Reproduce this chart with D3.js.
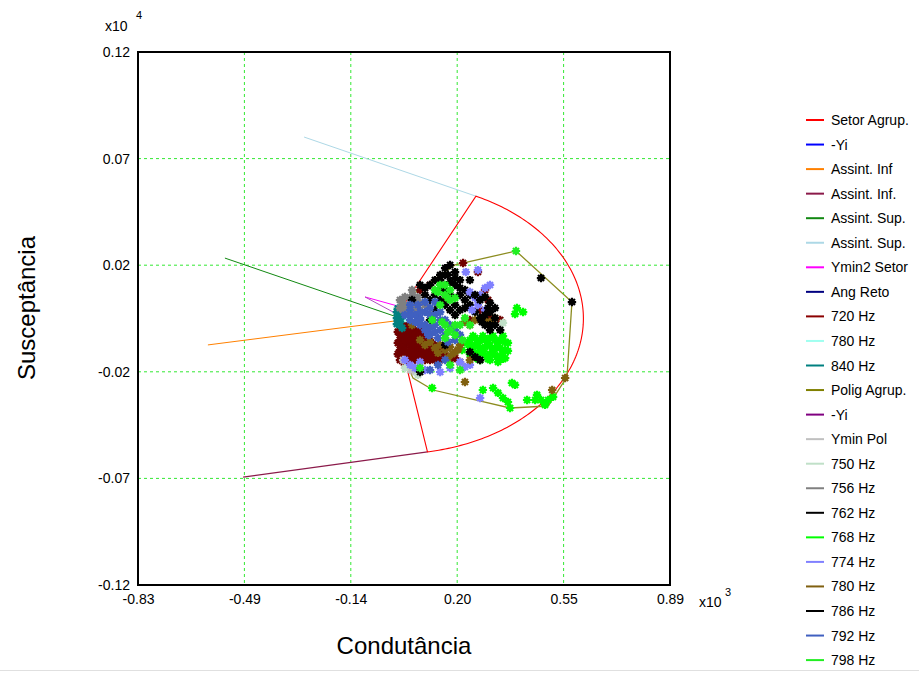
<!DOCTYPE html>
<html>
<head>
<meta charset="utf-8">
<script src="https://cdn.jsdelivr.net/npm/d3@7"></script>
<style>
  body { margin: 0; background: #fff; }
  text { font-family: Arial, "Liberation Sans", sans-serif; }
</style>
</head>
<body>
<svg id="chart" width="919" height="675"></svg>
<script>
// axis ticks (x in units of 10^3, y in units of 10^4)
const xTicks = [-0.83, -0.486, -0.142, 0.202, 0.546, 0.89];
const yTicks = [-0.12, -0.072, -0.024, 0.024, 0.072, 0.12];

// sector: centre, radius (real units) and angle span in degrees
const setorCenter = [0, 0];
const setorRadius = 610;
const setorAngles = [64.5, -80];

// straight lines
const assintInfOrange = [[-0.604, -0.0119], [0.001, -0.0011]];
const assintInfMaroon = [[-0.49, -0.0714], [0.106, -0.0601]];
const assintSupGreen = [[-0.549, 0.0272], [0.007, 0.0007]];
const assintSupBlue = [[-0.293, 0.0817], [0.264, 0.0550]];
const ymin2Setor = [[0.020, 0.0052], [-0.096, 0.0097]];
const yiPurple = [[-0.096, 0.0097], [0.007, 0.0020]];
const yiBlue = [[0.0, 0.0], [0.02, -0.004]];
const angReto = [[0.03, 0.0], [0.04, -0.003]];
const poligAgrup = [[0.017, 0.0070], [0.195, 0.0241], [0.392, 0.0304], [0.573, 0.0074],
  [0.557, -0.0263], [0.496, -0.0394], [0.373, -0.0403], [0.124, -0.0322], [0.059, -0.0268],
  [0.024, -0.0151], [0.017, 0.0070]];

// measured points per frequency
const hz720 = [[0.017,-0.0052],[0.017,-0.0097],[0.017,-0.0142],[0.033,-0.0029],[0.033,-0.0074],[0.033,-0.0119],
  [0.033,-0.0164],[0.050,-0.0029],[0.050,-0.0074],[0.050,-0.0119],[0.050,-0.0164],[0.066,-0.0052],[0.066,-0.0097],
  [0.066,-0.0142],[0.066,-0.0187],[0.082,-0.0052],[0.082,-0.0097],[0.082,-0.0142],[0.082,-0.0187],[0.098,-0.0074],
  [0.098,-0.0119],[0.098,-0.0164],[0.114,-0.0097],[0.114,-0.0142],[0.114,-0.0187],[0.130,-0.0119],[0.130,-0.0164],
  [0.147,-0.0142],[0.147,-0.0187],[0.163,-0.0164],[0.179,-0.0187],[0.195,-0.0178],[0.211,-0.0196],[0.017,-0.0187],
  [0.033,-0.0209],[0.025,-0.0075],[0.025,-0.0125],[0.042,-0.0050],[0.042,-0.0100],[0.058,-0.0140],[0.074,-0.0120],
  [0.017,-0.0074],[0.017,-0.0119],[0.017,-0.0164],[0.033,-0.0052],[0.033,-0.0097],[0.033,-0.0142],[0.033,-0.0187],
  [0.050,-0.0052],[0.050,-0.0097],[0.050,-0.0142],[0.050,-0.0187],[0.066,-0.0074],[0.066,-0.0119],[0.066,-0.0164],
  [0.082,-0.0074],[0.082,-0.0119],[0.082,-0.0164],[0.098,-0.0097],[0.098,-0.0142],[0.098,-0.0187],[0.114,-0.0119],
  [0.114,-0.0164],[0.130,-0.0142],[0.130,-0.0187],[0.147,-0.0164],[0.010,-0.0060],[0.010,-0.0110],[0.010,-0.0160],
  [0.082,0.0128],[0.114,0.0151],[0.221,0.0250],[0.269,0.0209],[0.302,0.0083],[0.308,0.0002],[0.243,-0.0007],
  [0.276,0.0038],[0.163,0.0083],[0.341,-0.0007],[0.292,0.0128]];
const hz780a = [[0.033,0.0002],[0.050,0.0016]];
const hz840 = [[0.007,0.0029],[0.007,0.0002],[0.007,-0.0025],[0.017,0.0016],[0.017,-0.0016],[0.024,-0.0043],
  [0.010,0.0045],[0.020,0.0005]];
const yminPol = [[0.027,-0.0187],[0.050,-0.0232],[0.066,-0.0241]];
const hz750 = [[0.350,-0.0020],[0.075,-0.0254],[0.033,-0.0223]];
const hz756 = [[0.017,0.0083],[0.033,0.0097],[0.033,0.0061],[0.050,0.0092],[0.050,0.0061],[0.050,0.0029],
  [0.066,0.0083],[0.066,0.0047],[0.082,0.0070],[0.082,0.0038],[0.098,0.0061],[0.027,0.0038],[0.017,0.0047],
  [0.056,0.0128],[0.137,0.0070],[0.025,0.0070],[0.042,0.0045],[0.058,0.0105],[0.074,0.0095]];
const hz762 = [[0.114,0.0151],[0.130,0.0173],[0.147,0.0196],[0.163,0.0227],[0.179,0.0241],[0.172,0.0196],
  [0.195,0.0209],[0.179,0.0164],[0.195,0.0151],[0.211,0.0173],[0.163,0.0128],[0.179,0.0106],[0.211,0.0106],
  [0.195,0.0061],[0.227,0.0083],[0.211,0.0038],[0.243,0.0061],[0.227,0.0128],[0.147,0.0083],[0.098,0.0106],
  [0.130,0.0038],[0.114,-0.0007],[0.082,0.0151],[0.056,0.0083],
  [0.147,0.0173],[0.163,0.0196],[0.195,0.0182],[0.211,0.0137],[0.243,0.0106],[0.227,0.0047],[0.179,0.0038],
  [0.163,0.0061],[0.130,0.0106],[0.114,0.0083],[0.098,0.0137],[0.195,0.0016],[0.260,0.0029],[0.243,0.0173],
  [0.147,0.0128]];
const hz768 = [[0.243,-0.0097],[0.260,-0.0088],[0.276,-0.0097],[0.292,-0.0097],[0.308,-0.0088],[0.324,-0.0097],
  [0.341,-0.0097],[0.357,-0.0106],[0.243,-0.0128],[0.260,-0.0119],[0.276,-0.0133],[0.292,-0.0128],[0.308,-0.0124],
  [0.324,-0.0133],[0.341,-0.0133],[0.357,-0.0142],[0.243,-0.0160],[0.260,-0.0155],[0.276,-0.0151],[0.292,-0.0164],
  [0.308,-0.0160],[0.324,-0.0164],[0.341,-0.0169],[0.357,-0.0178],[0.276,-0.0187],[0.308,-0.0187],[0.334,-0.0196],
  [0.227,-0.0106],[0.218,-0.0142],
  [0.237,-0.0110],[0.269,-0.0110],[0.302,-0.0110],[0.334,-0.0110],[0.366,-0.0110],
  [0.253,-0.0146],[0.285,-0.0146],[0.318,-0.0146],[0.350,-0.0146],[0.366,-0.0146],
  [0.269,-0.0182],[0.302,-0.0182],[0.334,-0.0182],[0.350,-0.0182],
  [0.253,-0.0079],[0.285,-0.0079],[0.318,-0.0079],[0.350,-0.0079],
  [0.121,-0.0313],[0.285,-0.0322],[0.318,-0.0313],[0.334,-0.0335],[0.350,-0.0358],[0.379,-0.0290],[0.366,-0.0376],
  [0.428,-0.0367],[0.460,-0.0344],[0.473,-0.0367],[0.486,-0.0389],[0.496,-0.0367],[0.512,-0.0353],[0.373,-0.0403],
  [0.389,-0.0299],[0.454,-0.0367],[0.395,0.0047],[0.415,0.0029],[0.389,0.0020]];
const hz774 = [[0.230,0.0209],[0.269,0.0218],[0.243,0.0119],[0.260,0.0092],[0.276,0.0106],[0.269,0.0061],
  [0.292,0.0137],[0.250,0.0038],[0.033,-0.0187],[0.050,-0.0209],[0.066,-0.0223],[0.082,-0.0196],[0.098,-0.0232],
  [0.211,-0.0196],[0.227,-0.0218],[0.243,-0.0209],[0.276,-0.0358],[0.147,-0.0241],[0.179,-0.0223],[0.292,0.0038],
  [0.308,0.0151]];
const hz780b = [[0.082,-0.0097],[0.098,-0.0119],[0.114,-0.0106],[0.130,-0.0133],[0.147,-0.0119],[0.163,-0.0142],
  [0.179,-0.0128],[0.195,-0.0151],[0.211,-0.0119],[0.227,-0.0016],[0.243,-0.0029],[0.260,-0.0007],[0.292,-0.0007],
  [0.308,-0.0016],[0.324,0.0002],[0.227,-0.0286],[0.551,-0.0268],[0.509,-0.0322],[0.056,-0.0029],[0.243,-0.0187],
  [0.172,-0.0178],[0.140,-0.0155],[0.186,-0.0160],[0.205,-0.0140]];
const hz786 = [[0.276,0.0083],[0.292,0.0097],[0.308,0.0070],[0.324,0.0047],[0.308,0.0029],[0.292,0.0016],
  [0.324,0.0002],[0.282,-0.0016],[0.308,-0.0029],[0.260,-0.0173],[0.276,-0.0187],[0.243,-0.0151],[0.163,-0.0119],
  [0.082,-0.0241],[0.473,0.0182],[0.573,0.0074],[0.260,0.0106],[0.341,-0.0052],
  [0.302,0.0047],[0.324,-0.0029],[0.276,0.0002],[0.292,-0.0029],[0.308,-0.0052]];
const hz792 = [[0.050,0.0038],[0.066,0.0016],[0.082,0.0002],[0.098,0.0029],[0.114,0.0047],[0.130,0.0016],
  [0.147,-0.0007],[0.082,-0.0029],[0.098,-0.0029],[0.114,-0.0043],[0.130,-0.0029],[0.147,-0.0052],[0.163,-0.0074],
  [0.066,-0.0016],[0.050,-0.0007],[0.108,-0.0074],[0.140,-0.0088],[0.172,-0.0106],[0.195,-0.0097],[0.130,0.0074],
  [0.098,0.0074],[0.179,-0.0052],[0.163,-0.0187],[0.114,-0.0232],[0.140,-0.0209],
  [0.050,0.0016],[0.082,0.0029],[0.114,0.0016],[0.147,0.0029],[0.163,-0.0007],[0.179,-0.0029],[0.195,-0.0052],
  [0.114,-0.0074],[0.130,-0.0061],[0.098,-0.0052],[0.082,-0.0007],[0.050,0.0061],[0.075,0.0061],
  [0.211,-0.0074],[0.033,0.0016]];
const hz798 = [[0.130,0.0128],[0.147,0.0151],[0.163,0.0106],[0.179,0.0083],[0.195,0.0092],[0.147,0.0061],
  [0.121,-0.0007],[0.163,-0.0029],[0.179,-0.0052],[0.163,-0.0088],[0.195,-0.0074],[0.211,-0.0029],
  [0.227,0.0002],[0.243,-0.0029],[0.218,-0.0097],[0.082,-0.0223],[0.179,-0.0209],
  [0.211,-0.0232],[0.392,0.0304],
  [0.163,0.0151],[0.179,0.0128],[0.140,0.0119],[0.172,0.0092],[0.153,-0.0016],[0.172,-0.0061],[0.195,-0.0029]];

const legendNames = ["Setor Agrup.", "-Yi", "Assint. Inf", "Assint. Inf.", "Assint. Sup.", "Assint. Sup.",
  "Ymin2 Setor", "Ang Reto", "720 Hz", "780 Hz", "840 Hz", "Polig Agrup.", "-Yi", "Ymin Pol", "750 Hz",
  "756 Hz", "762 Hz", "768 Hz", "774 Hz", "780 Hz", "786 Hz", "792 Hz", "798 Hz"];
const legendColors = ["#ff0000", "#0000ff", "#ff8000", "#8b1a4a", "#118811", "#add8e6", "#ff00ff", "#000080",
  "#8b0000", "#a0fff0", "#008080", "#808000", "#800080", "#c0c0c0", "#c0e0c8", "#808080", "#000000",
  "#00ff00", "#8080ff", "#806010", "#000000", "#4060c0", "#22ee22"];

const svg = d3.select("#chart");
const W = 919, H = 675;
const mLeft = 138, mRight = 670, mTop = 52, mBottom = 585;

const x = d3.scaleLinear().domain([-0.83, 0.89]).range([mLeft, mRight]);
const y = d3.scaleLinear().domain([-0.12, 0.12]).range([mBottom, mTop]);

// grid
const grid = svg.append("g");
grid.selectAll(".gx").data(xTicks.slice(1, -1)).join("line")
  .attr("x1", d => x(d)).attr("x2", d => x(d)).attr("y1", mTop).attr("y2", mBottom)
  .attr("stroke", "#33e833").attr("stroke-dasharray", "3,3");
grid.selectAll(".gy").data(yTicks.slice(1, -1)).join("line")
  .attr("y1", d => y(d)).attr("y2", d => y(d)).attr("x1", mLeft).attr("x2", mRight)
  .attr("stroke", "#33e833").attr("stroke-dasharray", "3,3");

// axes
const fmt = d => d.toFixed(2);
const xAxis = svg.append("g").attr("transform", `translate(0,${mBottom})`)
  .call(d3.axisBottom(x).tickValues(xTicks).tickFormat(fmt).tickSize(0).tickPadding(9));
const yAxis = svg.append("g").attr("transform", `translate(${mLeft},0)`)
  .call(d3.axisLeft(y).tickValues(yTicks).tickFormat(fmt).tickSize(0).tickPadding(8));
[xAxis, yAxis].forEach(a => {
  a.select(".domain").remove();
  a.selectAll("text").attr("font-size", 14).attr("fill", "#000")
    .attr("font-family", "Arial, 'Liberation Sans', sans-serif");
});

const line = d3.line().x(d => x(d[0])).y(d => y(d[1]));

// sector outline
const toData = (deg) => [setorCenter[0] + setorRadius * Math.cos(deg * Math.PI / 180) / 1000,
                         setorCenter[1] + setorRadius * Math.sin(deg * Math.PI / 180) / 10000];
const arcPts = d3.range(setorAngles[0], setorAngles[1] - 0.5, -1).map(toData);
const setorPath = [setorCenter, ...arcPts, toData(setorAngles[1]), setorCenter];

const lines = [
  { d: assintSupBlue, c: legendColors[5], w: 1 },
  { d: assintSupGreen, c: legendColors[4], w: 1 },
  { d: assintInfOrange, c: legendColors[2], w: 1 },
  { d: assintInfMaroon, c: legendColors[3], w: 1.3 },
  { d: setorPath, c: legendColors[0], w: 1.1 },
  { d: yiBlue, c: legendColors[1], w: 1 },
  { d: angReto, c: legendColors[7], w: 1 },
  { d: ymin2Setor, c: legendColors[6], w: 1 },
  { d: yiPurple, c: "#b050c0", w: 1 },
  { d: poligAgrup, c: "#8c8c20", w: 1.3 }
];
svg.append("g").selectAll("path").data(lines).join("path")
  .attr("d", d => line(d.d)).attr("fill", "none")
  .attr("stroke", d => d.c).attr("stroke-width", d => d.w);

// scatter series
const series = [
  { d: hz720, c: "#700000" },
  { d: hz780a, c: legendColors[9] },
  { d: hz840, c: legendColors[10] },
  { d: yminPol, c: legendColors[13] },
  { d: hz750, c: legendColors[14] },
  { d: hz756, c: legendColors[15] },
  { d: hz762, c: legendColors[16] },
  { d: hz768, c: legendColors[17] },
  { d: hz774, c: legendColors[18] },
  { d: hz780b, c: legendColors[19] },
  { d: hz786, c: legendColors[20] },
  { d: hz792, c: legendColors[21] },
  { d: hz798, c: legendColors[22] }
];
const star = "M-4.2,0H4.2M0,-4.2V4.2M-3,-3L3,3M-3,3L3,-3";
const pg = svg.append("g");
series.forEach(s => {
  pg.append("g").selectAll("path").data(s.d).join("path")
    .attr("d", star)
    .attr("transform", d => `translate(${x(d[0])},${y(d[1])})`)
    .attr("fill", "none").attr("stroke", s.c).attr("stroke-width", 2.2);
});

// frame
svg.append("rect").attr("x", mLeft).attr("y", mTop).attr("width", mRight - mLeft).attr("height", mBottom - mTop)
  .attr("fill", "none").attr("stroke", "#000").attr("stroke-width", 2);

// multipliers
svg.append("text").attr("x", 105).attr("y", 31).attr("font-size", 14).text("x10");
svg.append("text").attr("x", 136).attr("y", 19).attr("font-size", 11).text("4");
svg.append("text").attr("x", 699).attr("y", 607).attr("font-size", 14).text("x10");
svg.append("text").attr("x", 725).attr("y", 596).attr("font-size", 11).text("3");

// axis titles
svg.append("text").attr("x", 404).attr("y", 654).attr("text-anchor", "middle")
  .attr("font-size", 24).text("Condutância");
svg.append("text").attr("transform", "translate(35,308) rotate(-90)").attr("text-anchor", "middle")
  .attr("font-size", 24).text("Susceptância");

// legend
const lg = svg.append("g").selectAll("g").data(legendNames).join("g")
  .attr("transform", (d, i) => `translate(806,${120 + i * 24.55})`);
lg.append("line").attr("x1", 0).attr("x2", 18).attr("y1", 0).attr("y2", 0)
  .attr("stroke", (d, i) => legendColors[i]).attr("stroke-width", 2);
lg.append("text").attr("x", 25).attr("y", 5).attr("font-size", 14).text(d => d);

// bottom separator
svg.append("line").attr("x1", 0).attr("x2", W).attr("y1", 670.5).attr("y2", 670.5)
  .attr("stroke", "#e0e0e0");
</script>
</body>
</html>
